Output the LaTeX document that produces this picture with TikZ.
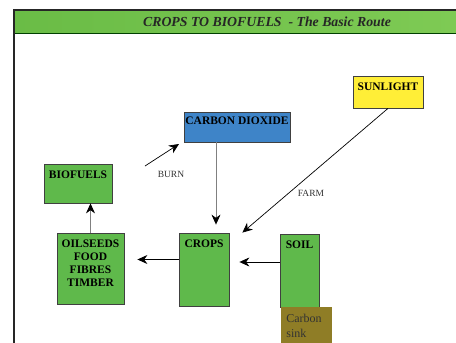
\documentclass[tikz,border=0pt]{standalone}
\usepackage{fontspec}
\setmainfont{Liberation Serif}
\usetikzlibrary{arrows.meta}
\definecolor{cropgreen}{RGB}{95,185,75}
\definecolor{co2blue}{RGB}{62,132,200}
\definecolor{sunyellow}{RGB}{255,238,55}
\definecolor{sinkolive}{RGB}{143,125,38}
\definecolor{barleft}{RGB}{106,188,70}
\definecolor{barmid}{RGB}{142,208,94}
\definecolor{barright}{RGB}{126,202,84}

\begin{document}
\begin{tikzpicture}[x=1pt, y=-1pt, line width=0.7pt,
  font=\fontsize{11.5}{13}\selectfont\bfseries,
  box/.style={draw=black!75, line width=0.8pt, inner sep=0pt},
  boxtext/.style={anchor=north, inner sep=0pt, yshift=-7pt, align=center},
  small/.style={font=\fontsize{9.5}{11}\selectfont, text=black!80},
  arr/.style={-{Stealth[length=10pt, width=9pt, black]}}]
\useasboundingbox (0,0) rectangle (456,343);
% ---- frame and title bar
\shade[left color=barleft, middle color=barmid, right color=barright] (14,11) rectangle (456,33);
\draw[black!50!green!50!black, line width=0.8pt] (14,33) -- (456,33);
\draw[black!85, line width=2pt] (456,10) -- (14,10) -- (14,343);
\node[font=\fontsize{13.8}{15}\selectfont\bfseries\itshape, text=black!85] (title) at (267,21.5) {CROPS TO BIOFUELS\ \ - The Basic Route};
% ---- the boxes
\node[box, fill=co2blue, minimum width=106pt, minimum height=30pt, label={[boxtext, yshift=2pt]north:CARBON DIOXIDE}] (co2) at (237,127) {};
\node[box, fill=sunyellow, minimum width=70pt, minimum height=32pt, label={[boxtext]north:SUNLIGHT}] (sun) at (388,92) {};
\node[box, fill=cropgreen, minimum width=68pt, minimum height=39pt, label={[boxtext]north:BIOFUELS}] (bio) at (78,183.5) {};
\node[box, fill=cropgreen, minimum width=67pt, minimum height=71pt, label={[boxtext]north:OILSEEDS\\FOOD\\FIBRES\\TIMBER}] (oil) at (90.5,268.5) {};
\node[box, fill=cropgreen, minimum width=50pt, minimum height=73pt, label={[boxtext]north:CROPS}] (crops) at (204,269.5) {};
\node[box, fill=cropgreen, minimum width=39pt, minimum height=73pt, label={[boxtext]north:SOIL}] (soil) at (299.5,270.5) {};
\node[fill=sinkolive, anchor=north west, minimum width=51pt, minimum height=37pt, inner sep=5pt, text width=41pt, align=left,
  font=\fontsize{12}{15}\selectfont, text=black!80] (sink) at (281,306.6) {Carbon\\sink};
% ---- connectors
\coordinate (burnfrom) at (145,166);
\coordinate (burnto) at (179,144);
\draw[arr] (burnfrom) -- (burnto);
\node[small] (burn) at (171,174) {BURN};
\draw[arr, draw=black!50] ([xshift=-21pt]co2.south) -- ([xshift=12pt]crops.north) [shorten >=8pt];
\draw[arr] (sun.south) -- ([xshift=13pt]crops.north east);
\node[small] (farm) at (311,193) {FARM};
\draw[arr, draw=black!50] (oil.north) -- (oil.north |- bio.south);
\draw[arr] ([yshift=10pt]crops.west) -- ([yshift=10pt]crops.west -| oil.east) [shorten >=13pt];
\draw[arr] ([yshift=8.5pt]soil.west) -- ([yshift=8.5pt]soil.west -| crops.east) [shorten >=10pt];
\end{tikzpicture}
\end{document}
